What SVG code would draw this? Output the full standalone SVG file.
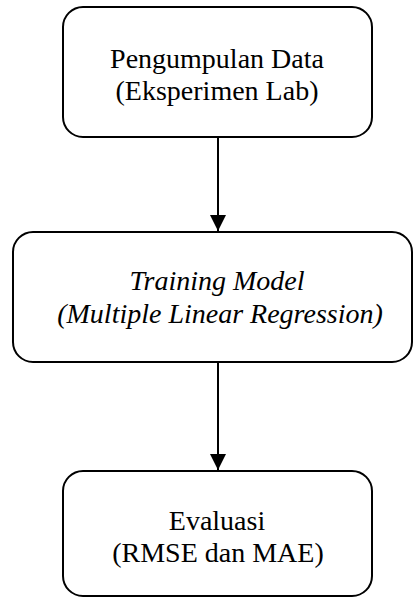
<svg xmlns="http://www.w3.org/2000/svg" width="415" height="599" viewBox="0 0 415 599">
<style>
.box{fill:#fff;stroke:#000;stroke-width:2}
.t{font-size:28px;fill:#000;text-anchor:middle}
.i{font-style:italic}
.c{stroke:#000;stroke-width:2;fill:none}
</style>
<defs>
<marker id="ah" markerWidth="8" markerHeight="8" refX="8" refY="4" orient="auto" markerUnits="strokeWidth">
<path d="M0,0 L8,4 L0,8 Z" fill="#000"/>
</marker>
</defs>
<rect width="415" height="599" fill="#fff"/>
<g id="connectors">
<line class="c" x1="218" y1="137" x2="218" y2="231" marker-end="url(#ah)"/>
<line class="c" x1="218" y1="362" x2="218" y2="470" marker-end="url(#ah)"/>
</g>
<g id="node1" font-family="'Liberation Serif', 'DejaVu Serif', serif">
<rect class="box" x="63" y="7" width="309" height="130" rx="20"/>
<text class="t" x="217" y="68">Pengumpulan Data</text>
<text class="t" x="217" y="100">(Eksperimen Lab)</text>
</g>
<g id="node2" font-family="'Liberation Serif', 'DejaVu Serif', serif">
<rect class="box" x="13" y="232" width="399" height="130" rx="20"/>
<text class="t i" x="217" y="290">Training Model</text>
<text class="t i" x="220" y="323">(Multiple Linear Regression)</text>
</g>
<g id="node3" font-family="'Liberation Serif', 'DejaVu Serif', serif">
<rect class="box" x="63" y="471" width="309" height="125" rx="20"/>
<text class="t" x="217" y="530">Evaluasi</text>
<text class="t" x="218" y="562">(RMSE dan MAE)</text>
</g>
</svg>
